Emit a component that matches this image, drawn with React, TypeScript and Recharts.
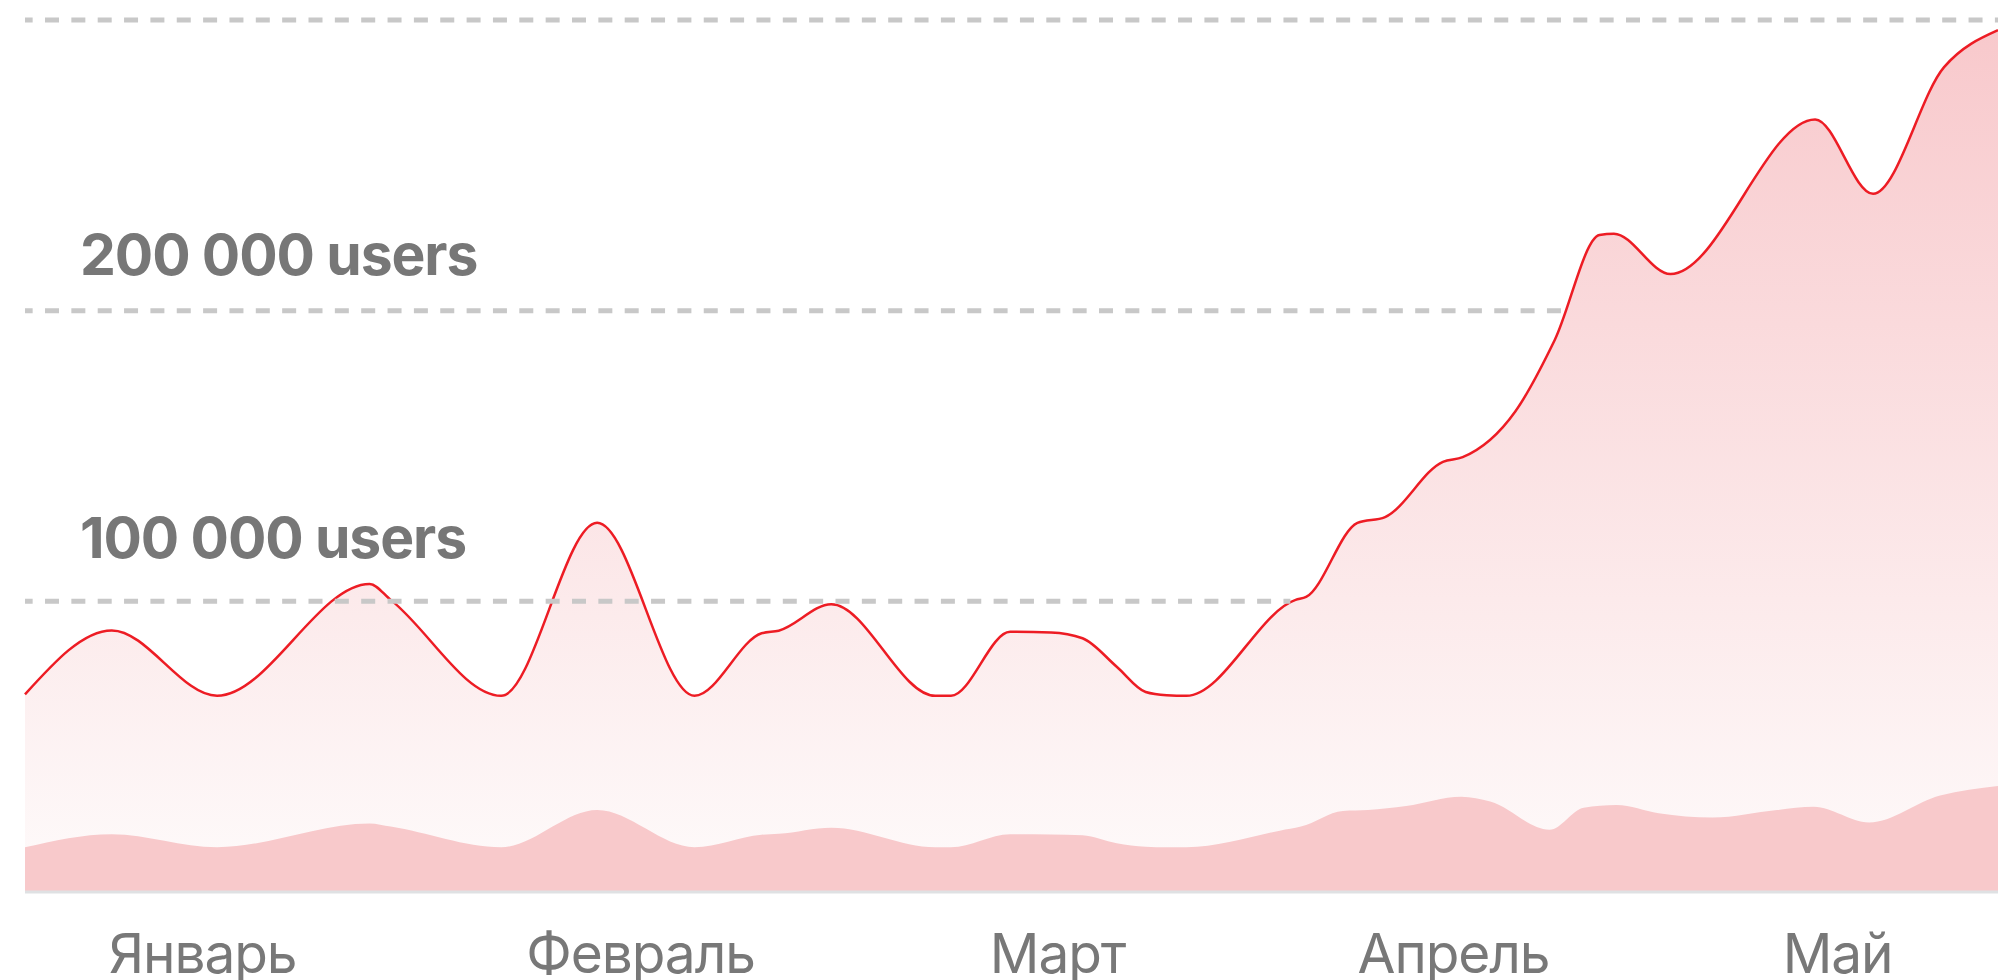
import React from "react";
import { AreaChart, Area, XAxis, YAxis, ReferenceLine } from "recharts";

// x axis is measured in days from the start of the period
const monthLabels = ["Январь", "Февраль", "Март", "Апрель", "Май"];
const monthDays = [13.5, 46.8, 78.5, 108.6, 137.8];

// all users
const totalDays = [
  0, 6.6, 14.6, 26.2, 27.8, 36.2, 43.5, 50.9, 56.0, 57.3, 61.3, 69.2, 70.4,
  74.9, 78.0, 80.4, 83.0, 85.2, 86.8, 88.3, 96.6, 97.4, 101.3, 103.4, 107.8,
  109.3, 113.3, 116.3, 119.7, 120.8, 125.1, 136.1, 140.5, 145.9, 150,
];
const totalUsers = [
  68000, 90000, 67500, 106000, 100500, 67500, 127000, 67500, 89000, 89900,
  99000, 67500, 67500, 89500, 89300, 87300, 77500, 68800, 67700, 67500, 100500,
  101500, 127000, 129000, 148000, 149600, 165300, 189900, 226000, 226500,
  212600, 265800, 240200, 283800, 296500,
];

// active users
const activeDays = [
  0, 6.6, 14.6, 26.2, 27.8, 36.2, 43.5, 50.9, 56.0, 57.3, 61.3, 69.2, 70.4,
  74.9, 78.0, 80.4, 83.0, 85.2, 86.8, 88.3, 95.4, 97.0, 100.2, 102.1, 105.0,
  109.2, 111.4, 115.9, 118.5, 121.0, 124.2, 128.3, 133.2, 136.0, 140.2, 145.6,
  150,
];
const activeUsers = [
  15400, 19900, 15400, 23600, 22500, 15400, 28200, 15400, 19700, 20000, 22100,
  15400, 15400, 19900, 19800, 19500, 16800, 15600, 15400, 15400, 21100, 22500,
  27900, 28200, 29600, 32800, 31100, 21400, 29000, 29900, 27100, 25600, 28200,
  29300, 23900, 33200, 36500,
];

// milestone lines run until the day the value is reached
const milestoneValues = [100000, 200000];
const milestoneLabels = ["100 000 users", "200 000 users"];
const milestoneDays = [96.2, 116.8];
const labelLift = [43, 36];

const allDays = Array.from(new Set([...totalDays, ...activeDays])).sort(
  (a, b) => a - b
);
const chartData = allDays.map((day) => {
  const ti = totalDays.indexOf(day);
  const ai = activeDays.indexOf(day);
  return {
    day,
    total: ti >= 0 ? totalUsers[ti] : null,
    active: ai >= 0 ? activeUsers[ai] : null,
  };
});

const MonthTick = ({ x, y, payload }: any) => (
  <text
    x={x}
    y={y + 81}
    textAnchor="middle"
    fill="#787878"
    fontFamily="Inter, 'Noto Sans', sans-serif"
    fontSize={55}
    letterSpacing={-1.1}
  >
    {monthLabels[monthDays.indexOf(payload.value)]}
  </text>
);

const dashStyle = {
  stroke: "#c8c8c8",
  strokeWidth: 5,
  strokeDasharray: "14 12.35",
  strokeDashoffset: 6.35,
};

export default function App() {
  return (
    <div style={{ width: 1998, height: 980, background: "#fff" }}>
      <style>{"body{margin:0}"}</style>
      <AreaChart
        width={1998}
        height={980}
        data={chartData}
        margin={{ top: 20, right: 0, left: 25, bottom: 0 }}
      >
        <defs>
          <linearGradient id="totalFill" x1="0" y1="0" x2="0" y2="1">
            <stop offset="0%" stopColor="#f8c9cc" />
            <stop offset="100%" stopColor="#fefbfb" />
          </linearGradient>
        </defs>

        <XAxis
          dataKey="day"
          type="number"
          domain={[0, 150]}
          ticks={monthDays}
          interval={0}
          tick={<MonthTick />}
          tickLine={false}
          tickSize={0}
          tickMargin={0}
          height={88}
          axisLine={{ stroke: "#dfe1e3", strokeWidth: 3 }}
        />
        <YAxis
          width={0}
          domain={[0, 300000]}
          tick={false}
          tickLine={false}
          axisLine={{ stroke: "#e0e0e0", strokeWidth: 2.5 }}
        />

        <Area
          type="monotone"
          dataKey="total"
          connectNulls
          stroke="#ed1c24"
          strokeWidth={2.5}
          fill="url(#totalFill)"
          fillOpacity={1}
          isAnimationActive={false}
          dot={false}
          activeDot={false}
        />
        <Area
          type="monotone"
          dataKey="active"
          connectNulls
          stroke="none"
          fill="#f8c9cb"
          fillOpacity={1}
          isAnimationActive={false}
          dot={false}
          activeDot={false}
        />

        <ReferenceLine y={300000} {...dashStyle} />
        {milestoneValues.map((v, i) => (
          <ReferenceLine
            key={v}
            segment={[
              { x: 0, y: v },
              { x: milestoneDays[i], y: v },
            ]}
            {...dashStyle}
            label={(props: any) => (
              <text
                x={props.viewBox.x + 55}
                y={props.viewBox.y - labelLift[i]}
                fill="#777777"
                fontFamily="Inter, 'Noto Sans', sans-serif"
                fontWeight={700}
                fontSize={57}
                letterSpacing={-1.1}
              >
                {milestoneLabels[i]}
              </text>
            )}
          />
        ))}
      </AreaChart>
    </div>
  );
}
